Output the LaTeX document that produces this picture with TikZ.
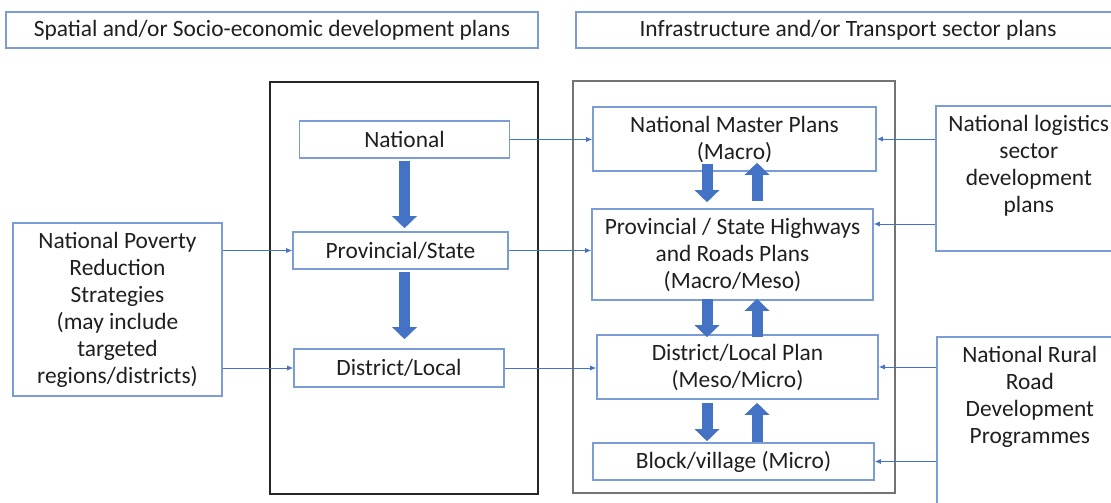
\documentclass[tikz,border=0pt]{standalone}
\usepackage{fontspec}
\setmainfont{Carlito}
\usetikzlibrary{arrows.meta}

\definecolor{boxblue}{RGB}{124,156,214}
\definecolor{lineblue}{RGB}{68,114,196}

\tikzset{
  plan/.style={draw=boxblue, line width=1.6pt, align=center, inner sep=0pt, fill=white},
  sidenote/.style={align=center, anchor=north},
  link/.style={draw=lineblue, line width=0.8pt, -{Latex[length=6pt,width=5pt]}},
  fat/.style={draw=lineblue, line width=11pt, -{Triangle[width=24pt,length=12pt]}},
}

\begin{document}
\begin{tikzpicture}[x=1pt, y=-1pt, font=\fontsize{23.4}{27}\selectfont, text=black!88]

\useasboundingbox (0,0) rectangle (1111,503);

\draw [black!85, line width=1.9pt] (270,82) rectangle (538,494);
\draw [black!55, line width=2.6pt] (573,81) rectangle (895,493);

\node [plan, minimum width=532pt, minimum height=36pt] (spatial) at (272,30) {Spatial and/or Socio-economic development plans};
\node [plan, minimum width=544pt, minimum height=36pt] (infra) at (848,30) {Infrastructure and/or Transport sector plans};

\node [plan, minimum width=210pt, minimum height=37pt] (nat) at (404.5,139.5) {National};
\node [plan, minimum width=215pt, minimum height=37pt] (prov) at (400.5,250.5) {Provincial/State};
\node [plan, minimum width=210pt, minimum height=38pt] (dist) at (399,368) {District/Local};

\node [plan, minimum width=209pt, minimum height=173pt] (pov) at (117.5,309.5)
  {National Poverty\\Reduction\\Strategies\\(may include\\targeted\\regions/districts)};

\node [plan, minimum width=283pt, minimum height=64pt] (nmp) at (734.5,139) {National Master Plans\\(Macro)};
\node [plan, minimum width=281pt, minimum height=91pt] (hwy) at (732.5,254.5) {Provincial / State Highways\\and Roads Plans\\(Macro/Meso)};
\node [plan, minimum width=281pt, minimum height=64pt] (dplan) at (737.5,367) {District/Local Plan\\(Meso/Micro)};
\node [plan, minimum width=281pt, minimum height=37pt] (blk) at (733.5,461.5) {Block/village (Micro)};

\node [plan, anchor=north west, minimum width=186pt, minimum height=145pt] (logi) at (935,105) {};
\node [sidenote] at ([yshift=-7pt]logi.north) {National logistics\\sector\\development\\plans};
\node [plan, anchor=north west, minimum width=186pt, minimum height=200pt] (rural) at (936,336) {};
\node [sidenote] at ([yshift=-7pt]rural.north) {National Rural\\Road\\Development\\Programmes};

\draw [link] (nat.east) -- (nat.east -| nmp.west);
\draw [link] (prov.east) -- (prov.east -| hwy.west);
\draw [link] (dist.east) -- (dist.east -| dplan.west);
\draw [link] (pov.east |- prov.west) -- (prov.west);
\draw [link] (pov.east |- dist.west) -- (dist.west);

\coordinate (logi2) at (935,224);
\draw [link] (logi.west |- nmp.east) -- (nmp.east);
\draw [link] (logi2) -- (logi2 -| hwy.east);
\draw [link] (rural.west |- dplan.east) -- (dplan.east);
\draw [link] (rural.west |- blk.east) -- (blk.east);

\draw [fat, shorten <=2pt, shorten >=3pt] (nat.south) -- (nat.south |- prov.north);
\draw [fat, shorten <=2pt, shorten >=9pt] (prov.south -| nat.south) -- (nat.south |- dist.north);

\coordinate (dn) at (707,0);
\coordinate (up) at (757,0);

\foreach \a/\b/\s/\e in {nmp/hwy/-8/6, hwy/dplan/-2/-3, dplan/blk/3/1}
    \draw [fat, shorten <=\s pt, shorten >=\e pt] (dn |- \a.south) -- (dn |- \b.north);

\foreach \a/\b/\s/\e in {nmp/hwy/7/-9, hwy/dplan/-3/-2, dplan/blk/0/3}
    \draw [fat, shorten <=\s pt, shorten >=\e pt] (up |- \b.north) -- (up |- \a.south);

\end{tikzpicture}
\end{document}
